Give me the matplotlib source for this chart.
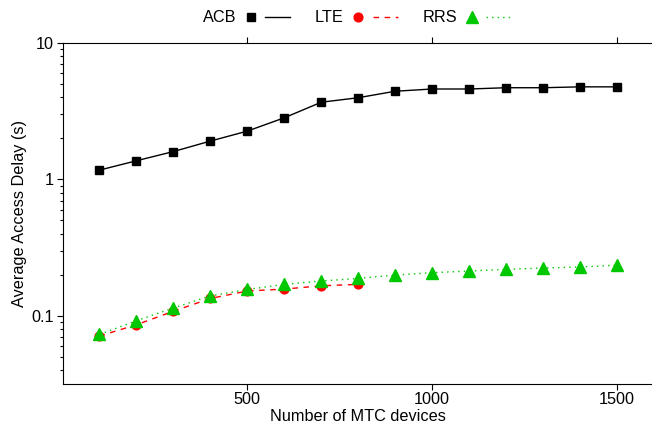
import matplotlib
matplotlib.use('Agg')
import matplotlib.pyplot as plt
from matplotlib.lines import Line2D
from matplotlib.legend_handler import HandlerBase
from matplotlib.ticker import LogLocator, FixedLocator

plt.rcParams['font.family'] = ['Liberation Sans', 'DejaVu Sans']

# datos
n_acb = [100, 200, 300, 400, 500, 600, 700, 800, 900, 1000, 1100, 1200, 1300, 1400, 1500]
acb = [1.17, 1.37, 1.6, 1.91, 2.26, 2.83, 3.68, 3.97, 4.43, 4.6, 4.6, 4.7, 4.7, 4.77, 4.77]

n_lte = [100, 200, 300, 400, 500, 600, 700, 800]
lte = [0.071, 0.086, 0.108, 0.134, 0.152, 0.157, 0.166, 0.170]

n_rrs = [100, 200, 300, 400, 500, 600, 700, 800, 900, 1000, 1100, 1200, 1300, 1400, 1500]
rrs = [0.073, 0.092, 0.114, 0.140, 0.156, 0.170, 0.180, 0.188, 0.199, 0.207, 0.213, 0.219, 0.224, 0.228, 0.235]

x_ticks = [500, 1000, 1500]

verde = '#00c800'
fs = 11.7


# leyenda estilo gnuplot: marcador suelto y despues el trozo de linea
class HandlerMarcaLinea(HandlerBase):
    def create_artists(self, legend, orig_handle, xdescent, ydescent,
                       width, height, fontsize, trans):
        y = height / 2 - ydescent
        x0 = -xdescent
        marca = Line2D([x0 + 0.09 * width], [y])
        self.update_prop(marca, orig_handle, legend)
        marca.set_linestyle('None')
        marca.set_transform(trans)
        linea = Line2D([x0 + 0.43 * width, x0 + width], [y, y])
        self.update_prop(linea, orig_handle, legend)
        linea.set_marker('None')
        linea.set_transform(trans)
        return [marca, linea]


fig = plt.figure(figsize=(6.52, 4.29), dpi=100)
ax = fig.add_axes([62.5/652, 45/429, (654-62.5)/652, (384-43)/429])

l1, = ax.plot(n_acb, acb, color='black', lw=1.0, ls='-', marker='s', ms=6.3, zorder=3)
l2, = ax.plot(n_lte, lte, color='red', lw=1.0, ls=(0, (4, 4)), marker='o', ms=6.3, zorder=3)
l3, = ax.plot(n_rrs, rrs, color=verde, lw=1.0, ls=(0, (1, 3)), marker='^', ms=8, zorder=4)

ax.set_yscale('log')
ax.set_xlim(0, 1600)
ax.set_ylim(10**-1.5, 10)
ax.xaxis.set_major_locator(FixedLocator(x_ticks))
ax.yaxis.set_minor_locator(LogLocator(base=10, subs=range(2, 10), numticks=20))
ax.yaxis.set_minor_formatter(plt.NullFormatter())
ax.set_yticks([0.1, 1, 10])
ax.set_yticklabels(['0.1', '1', '10'])

ax.tick_params(which='both', direction='out', top=True, labelsize=fs)
ax.tick_params(which='major', length=4, width=0.8, pad=2)
ax.tick_params(which='minor', length=2.5, width=0.8)
ax.spines['right'].set_visible(False)

ax.set_xlabel('Number of MTC devices', fontsize=fs, labelpad=1)
ax.set_ylabel('Average Access Delay (s)', fontsize=fs, labelpad=3.5)

fig.legend([l1, l2, l3], ['ACB', 'LTE', 'RRS'],
           handler_map={Line2D: HandlerMarcaLinea()},
           loc='center', bbox_to_anchor=(357/652, 1 - 18/429), ncol=3,
           frameon=False, markerfirst=False, handlelength=2.7,
           columnspacing=1.5, handletextpad=0.65, fontsize=fs)

fig.savefig('out.png', dpi=100)
